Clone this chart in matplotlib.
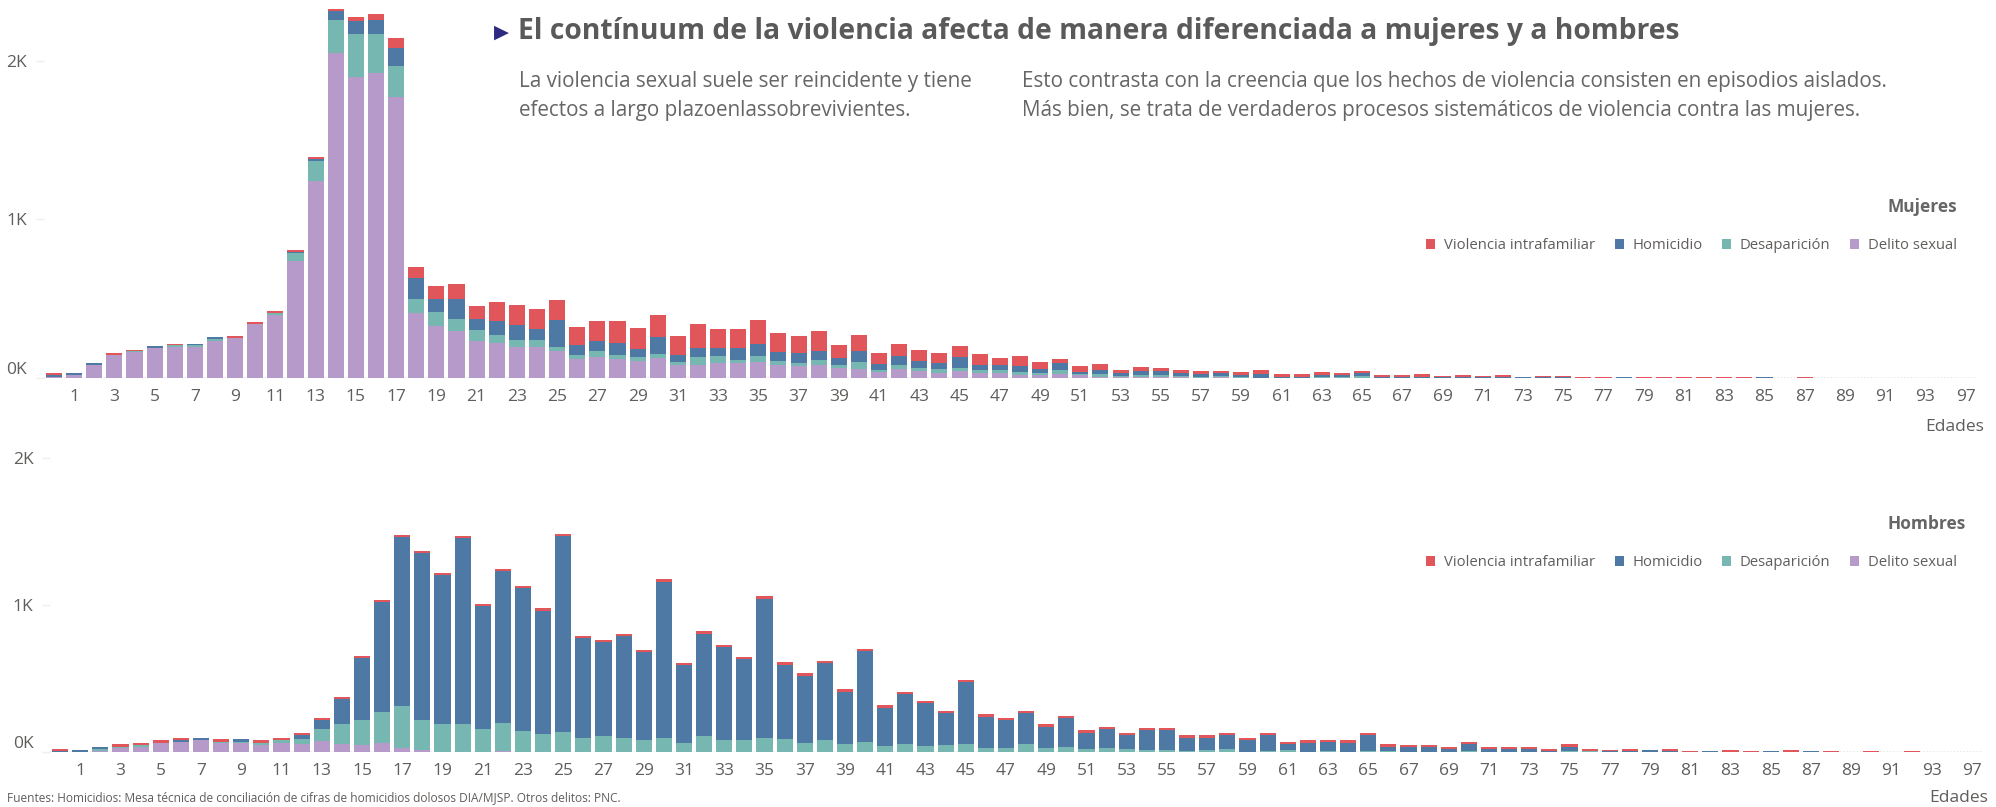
import matplotlib
matplotlib.use("Agg")
import matplotlib.pyplot as plt
import numpy as np

plt.rcParams['font.family'] = ['Open Sans', 'DejaVu Sans']

# Edades (categorías del eje x)
edades = list(range(0, 95)) + [97]

# Mujeres
m_sexual = [5, 21, 84, 145, 162, 191, 197, 197, 231, 254,
            342, 395, 739, 1244, 2046, 1899, 1924, 1773, 412, 330,
            294, 231, 218, 193, 193, 168, 118, 134, 118, 109,
            128, 84, 84, 92, 97, 103, 84, 78, 84, 65,
            59, 40, 59, 46, 34, 46, 34, 34, 21, 19,
            27, 19, 6, 4, 6, 4, 4, 2, 4, 2,
            0, 0, 0, 0, 0, 0, 0, 0, 0, 0,
            0, 0, 0, 0, 0, 0, 0, 0, 0, 0,
            0, 0, 0, 0, 0, 0, 0, 0, 0, 0,
            0, 0, 0, 0, 0, 0]
m_desap = [0, 0, 0, 3, 6, 0, 8, 8, 17, 0,
           0, 17, 50, 126, 212, 271, 246, 195, 88, 88,
           80, 74, 55, 48, 48, 29, 25, 34, 29, 25,
           25, 19, 50, 48, 19, 38, 25, 19, 31, 19,
           44, 13, 25, 19, 25, 19, 19, 19, 19, 15,
           25, 8, 21, 10, 15, 17, 10, 6, 10, 6,
           2, 2, 2, 6, 6, 15, 0, 0, 0, 0,
           0, 0, 0, 0, 0, 0, 0, 0, 0, 0,
           0, 0, 0, 0, 0, 0, 0, 0, 0, 0,
           0, 0, 0, 0, 0, 0]
m_homic = [16, 13, 12, 0, 0, 12, 0, 10, 13, 0,
           0, 0, 6, 10, 57, 82, 88, 113, 132, 82,
           126, 69, 84, 90, 69, 170, 63, 63, 71, 50,
           103, 44, 57, 50, 76, 76, 57, 63, 57, 44,
           69, 38, 57, 44, 38, 69, 31, 31, 38, 25,
           44, 13, 25, 19, 25, 25, 19, 19, 19, 13,
           25, 6, 6, 13, 13, 17, 6, 4, 6, 4,
           6, 4, 6, 6, 4, 4, 2, 2, 6, 2,
           2, 2, 2, 2, 2, 6, 0, 0, 0, 0,
           0, 0, 0, 0, 0, 0]
m_vif = [12, 0, 0, 10, 10, 0, 10, 0, 0, 13,
         13, 13, 13, 15, 13, 25, 38, 63, 65, 82,
         95, 82, 124, 130, 126, 126, 118, 130, 143, 132,
         143, 120, 151, 120, 120, 151, 120, 107, 126, 82,
         101, 69, 76, 69, 63, 69, 69, 44, 63, 44,
         25, 38, 38, 19, 25, 19, 19, 19, 13, 19,
         25, 19, 19, 21, 15, 15, 15, 17, 21, 10,
         15, 10, 15, 2, 10, 10, 6, 6, 2, 6,
         6, 6, 6, 6, 6, 0, 0, 6, 0, 0,
         0, 0, 0, 0, 0, 0]

# Hombres
h_sexual = [0, 0, 9, 30, 36, 64, 70, 84, 64, 64,
            50, 64, 57, 75, 57, 50, 61, 30, 16, 0,
            0, 0, 7, 0, 0, 0, 0, 0, 0, 0,
            0, 0, 0, 0, 0, 0, 0, 0, 0, 0,
            0, 0, 0, 0, 0, 0, 0, 0, 0, 0,
            0, 0, 0, 0, 0, 0, 0, 0, 0, 0,
            0, 0, 0, 0, 0, 0, 0, 0, 0, 0,
            0, 0, 0, 0, 0, 0, 0, 0, 0, 0,
            0, 0, 0, 0, 0, 0, 0, 0, 0, 0,
            0, 0, 0, 0, 0, 0]
h_desap = [0, 0, 14, 7, 14, 0, 0, 0, 7, 7,
           14, 20, 34, 84, 136, 164, 214, 286, 198, 193,
           193, 159, 193, 145, 125, 139, 98, 111, 98, 84,
           98, 64, 111, 84, 84, 98, 91, 64, 84, 57,
           70, 43, 57, 43, 50, 57, 30, 30, 57, 30,
           36, 23, 30, 23, 16, 16, 9, 16, 23, 0,
           9, 16, 0, 9, 0, 7, 7, 0, 0, 0,
           7, 0, 0, 0, 0, 7, 9, 0, 0, 0,
           0, 0, 0, 0, 0, 0, 0, 0, 0, 0,
           0, 0, 0, 0, 0, 0]
h_homic = [9, 16, 14, 0, 0, 0, 14, 14, 0, 14,
           0, 0, 27, 61, 164, 423, 743, 1145, 1139, 1009,
           1261, 832, 1030, 968, 832, 1330, 675, 634, 689, 593,
           1057, 525, 689, 627, 545, 941, 498, 450, 518, 348,
           614, 259, 334, 293, 218, 416, 211, 184, 205, 143,
           198, 109, 123, 89, 136, 130, 89, 82, 89, 84,
           109, 41, 64, 61, 64, 111, 30, 36, 36, 23,
           50, 23, 23, 23, 9, 30, 0, 5, 9, 16,
           9, 0, 9, 2, 0, 9, 0, 9, 0, 0,
           0, 0, 0, 0, 0, 0]
h_vif = [14, 0, 0, 14, 14, 14, 14, 0, 14, 0,
         14, 14, 14, 14, 14, 14, 14, 14, 14, 14,
         14, 14, 14, 14, 20, 14, 14, 14, 14, 14,
         20, 14, 20, 14, 14, 20, 20, 20, 20, 20,
         14, 20, 20, 14, 14, 14, 20, 20, 14, 14,
         14, 14, 14, 14, 14, 14, 14, 14, 14, 14,
         14, 14, 14, 14, 14, 14, 14, 14, 14, 14,
         14, 14, 14, 14, 14, 14, 14, 11, 14, 0,
         14, 9, 0, 14, 9, 0, 14, 0, 9, 0,
         9, 0, 9, 0, 0, 0]

series_names = ["Delito sexual", "Desaparición", "Homicidio", "Violencia intrafamiliar"]
colores = ["#B59ACA", "#77B7B1", "#4E79A5", "#E1565B"]

gris = "#605E5C"
x = np.arange(len(edades))

fig = plt.figure(figsize=(19.96, 8.07), dpi=100)
ax1 = fig.add_axes([0.0220, 0.5316, 0.9679, 0.4684])
ax2 = fig.add_axes([0.0251, 0.0682, 0.9679, 0.3804])


def dibujar(ax, datos, ymax, yleg):
    base = np.zeros(len(edades))
    handles = []
    for nombre, vals, col in zip(series_names, datos, colores):
        b = ax.bar(x, vals, 0.8, bottom=base, color=col, label=nombre, linewidth=0)
        handles.append(b)
        base = base + np.array(vals)
    ax.set_xlim(-0.5, len(edades) - 0.5)
    ax.set_ylim(0, ymax)
    ax.set_yticks([0, 1000, 2000])
    ax.set_yticklabels(["0K", "1K", "2K"])
    ax.set_xticks(x[1::2])
    ax.set_xticklabels([str(e) for e in edades[1::2]])
    ax.tick_params(axis='x', length=0, pad=8, labelsize=12.5, labelcolor=gris)
    ax.tick_params(axis='y', length=6, width=1, color="#EEEEEE", pad=6,
                   labelsize=12.5, labelcolor=gris)
    ax.get_yticklabels()[0].set_verticalalignment('bottom')
    for s in ax.spines.values():
        s.set_visible(False)
    ax.axhline(0, color="#E6E6E6", lw=1.2, ls=(0, (1, 1)), zorder=0)
    # leyenda (orden de Power BI)
    orden = [3, 2, 1, 0]
    ax.legend([handles[i] for i in orden], [series_names[i] for i in orden],
              ncol=4, loc='upper right', frameon=False,
              bbox_to_anchor=(1970 / 1996, 1 - (yleg - 12) / 807),
              bbox_transform=fig.transFigure,
              handlelength=0.6, handleheight=0.6, handletextpad=0.6,
              columnspacing=1.3, fontsize=10.7, labelcolor=gris)


dibujar(ax1, [m_sexual, m_desap, m_homic, m_vif], 2383, 237)
dibujar(ax2, [h_sexual, h_desap, h_homic, h_vif], 2088, 554)

fig.text(1957 / 1996, 1 - 207 / 807, "Mujeres", ha='right', va='center',
         fontsize=12.5, fontweight='bold', color="#666666")
fig.text(1966 / 1996, 1 - 524 / 807, "Hombres", ha='right', va='center',
         fontsize=12.5, fontweight='bold', color="#666666")

fig.text(1984 / 1996, 1 - 427 / 807, "Edades", ha='right', va='center',
         fontsize=12.5, color=gris)
fig.text(1988 / 1996, 1 - 798 / 807, "Edades", ha='right', va='center',
         fontsize=12.5, color=gris)

# título y textos
fig.text(501 / 1996, 1 - 32 / 807, "\u25B6", ha='center', va='center',
         fontsize=14, color="#2E2A80", family=['DejaVu Sans'])
fig.text(518 / 1996, 1 - 32 / 807,
         "El contínuum de la violencia afecta de manera diferenciada a mujeres y a hombres",
         ha='left', va='center', fontsize=20.3, fontweight='bold', color="#5A5A5A")
fig.text(519 / 1996, 1 - 96 / 807,
         "La violencia sexual suele ser reincidente y tiene\nefectos a largo plazoenlassobrevivientes.",
         ha='left', va='center', fontsize=14.9, color="#666666", linespacing=1.5)
fig.text(1022 / 1996, 1 - 96 / 807,
         "Esto contrasta con la creencia que los hechos de violencia consisten en episodios aislados.\n"
         "Más bien, se trata de verdaderos procesos sistemáticos de violencia contra las mujeres.",
         ha='left', va='center', fontsize=14.9, color="#666666", linespacing=1.5)

fig.text(7 / 1996, 1 - 798 / 807,
         "Fuentes: Homicidios: Mesa técnica de conciliación de cifras de homicidios dolosos DIA/MJSP. Otros delitos: PNC.",
         ha='left', va='center', fontsize=8.6, color=gris)

fig.savefig("out.png", dpi=100)
